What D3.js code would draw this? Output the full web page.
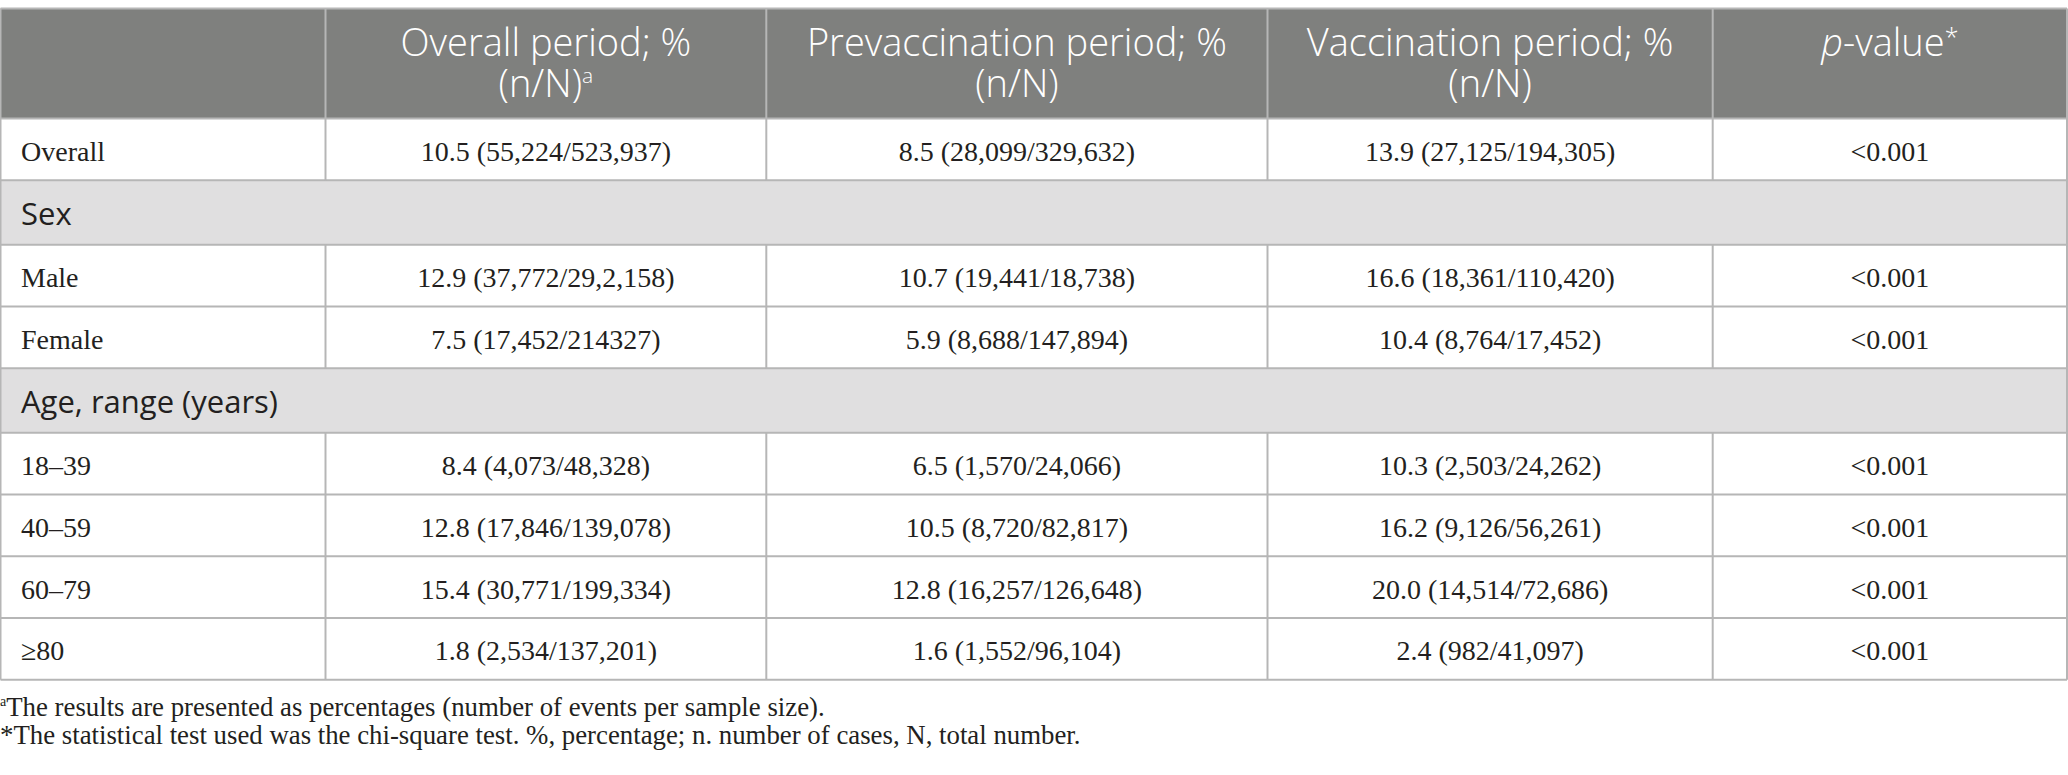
<!DOCTYPE html>
<html>
<head>
<meta charset="utf-8">
<script src="https://cdn.jsdelivr.net/npm/d3@7"></script>
<style>
  html, body { margin: 0; padding: 0; background: #fff; }
  svg { display: block; }
</style>
</head>
<body>
<svg id="chart" width="2068" height="775"></svg>
<script>
// ---------------- DATA ----------------
const headerLine1 = ["", "Overall period; %", "Prevaccination period; %", "Vaccination period; %", "p-value*"];
const headerLine2 = ["", "(n/N)", "(n/N)", "(n/N)", ""];
const rowTypes   = ["data", "section", "data", "data", "section", "data", "data", "data", "data"];
const rowLabels  = ["Overall", "Sex", "Male", "Female", "Age, range (years)", "18–39", "40–59", "60–79", "≥80"];
const overallPeriod = ["10.5 (55,224/523,937)", "", "12.9 (37,772/29,2,158)", "7.5 (17,452/214327)", "", "8.4 (4,073/48,328)", "12.8 (17,846/139,078)", "15.4 (30,771/199,334)", "1.8 (2,534/137,201)"];
const prevaccPeriod = ["8.5 (28,099/329,632)", "", "10.7 (19,441/18,738)", "5.9 (8,688/147,894)", "", "6.5 (1,570/24,066)", "10.5 (8,720/82,817)", "12.8 (16,257/126,648)", "1.6 (1,552/96,104)"];
const vaccPeriod    = ["13.9 (27,125/194,305)", "", "16.6 (18,361/110,420)", "10.4 (8,764/17,452)", "", "10.3 (2,503/24,262)", "16.2 (9,126/56,261)", "20.0 (14,514/72,686)", "2.4 (982/41,097)"];
const pValues       = ["<0.001", "", "<0.001", "<0.001", "", "<0.001", "<0.001", "<0.001", "<0.001"];
const footnotes = [
  {mark: "a", text: "The results are presented as percentages (number of events per sample size)."},
  {mark: "*", text: "The statistical test used was the chi-square test. %, percentage; n. number of cases, N, total number."}
];

// ---------------- LAYOUT / STYLE ----------------
const colEdges = [0.5, 325.5, 766.3, 1267.5, 1712.7, 2067];
const tableTop = 8.5;
const headerH = 110;
const rowH = {data: 61.75, section: 64.5};
const C = {
  headerBg: "#7f807e", sectionBg: "#e0dfe0", grid: "#b6b6b6", text: "#231f20", headerText: "#ffffff"
};
const serif = "'Liberation Serif', 'Times New Roman', serif";
const sans = "'Open Sans', 'Noto Sans', sans-serif";

const svg = d3.select("#chart");

// row positions
const rowTops = [];
let acc = tableTop + headerH;
rowTypes.forEach(t => { rowTops.push(acc); acc += rowH[t]; });
const tableBottom = acc;

const colCenter = i => (colEdges[i] + colEdges[i + 1]) / 2;

// header background
svg.append("rect")
  .attr("x", colEdges[0]).attr("y", tableTop)
  .attr("width", colEdges[5] - colEdges[0]).attr("height", headerH)
  .attr("fill", C.headerBg);

// section backgrounds
svg.selectAll("rect.section")
  .data(rowTypes.map((t, i) => ({t, i})).filter(d => d.t === "section"))
  .join("rect")
  .attr("class", "section")
  .attr("x", colEdges[0]).attr("y", d => rowTops[d.i])
  .attr("width", colEdges[5] - colEdges[0]).attr("height", d => rowH.section)
  .attr("fill", C.sectionBg);

// grid lines: horizontal
const hLines = [tableTop, tableTop + headerH, ...rowTops.slice(1), tableBottom];
svg.selectAll("line.h")
  .data(hLines)
  .join("line")
  .attr("class", "h")
  .attr("x1", colEdges[0]).attr("x2", colEdges[5])
  .attr("y1", d => d).attr("y2", d => d)
  .attr("stroke", C.grid).attr("stroke-width", 2);

// vertical lines: header + data rows
const vSegs = [];
[1, 2, 3, 4].forEach(ci => {
  vSegs.push({x: colEdges[ci], y1: tableTop, y2: tableTop + headerH});
  rowTypes.forEach((t, ri) => {
    if (t === "data") vSegs.push({x: colEdges[ci], y1: rowTops[ri], y2: rowTops[ri] + rowH.data});
  });
});
[0, 5].forEach(ci => vSegs.push({x: colEdges[ci], y1: tableTop, y2: tableBottom}));
svg.selectAll("line.v")
  .data(vSegs)
  .join("line")
  .attr("class", "v")
  .attr("x1", d => d.x).attr("x2", d => d.x)
  .attr("y1", d => d.y1).attr("y2", d => d.y2)
  .attr("stroke", C.grid).attr("stroke-width", 2);

// header text
const hdr = svg.append("g")
  .attr("font-family", sans).attr("font-weight", 300)
  .attr("font-size", 38).attr("fill", C.headerText)
  .attr("text-anchor", "middle");

[1, 2, 3].forEach(ci => {
  hdr.append("text").attr("x", colCenter(ci)).attr("y", tableTop + 47.5).text(headerLine1[ci]);
  const t2 = hdr.append("text").attr("x", colCenter(ci)).attr("y", tableTop + 88);
  t2.append("tspan").text(headerLine2[ci]);
  if (ci === 1) t2.append("tspan").attr("font-size", 21).attr("dy", -14).text("a");
});
{
  const t = hdr.append("text").attr("x", colCenter(4)).attr("y", tableTop + 47.5);
  t.append("tspan").attr("font-style", "italic").text("p");
  t.append("tspan").text("-value");
  t.append("tspan").attr("font-size", 25).attr("dy", -10).text("*");
}

// body rows
const columns = [overallPeriod, prevaccPeriod, vaccPeriod, pValues];
const rows = rowTypes.map((t, i) => ({t, i, label: rowLabels[i], cells: columns.map(c => c[i])}));

const body = svg.append("g").attr("fill", C.text);
rows.forEach(r => {
  const top = rowTops[r.i];
  if (r.t === "section") {
    body.append("text")
      .attr("x", 21).attr("y", top + rowH.section / 2 + 12)
      .attr("font-family", sans).attr("font-size", 31)
      .text(r.label);
  } else {
    const base = top + rowH.data / 2 + 11.5;
    body.append("text")
      .attr("x", 21).attr("y", base)
      .attr("font-family", serif).attr("font-size", 28)
      .text(r.label);
    body.selectAll(null)
      .data(r.cells)
      .join("text")
      .attr("x", (d, ci) => colCenter(ci + 1))
      .attr("y", base)
      .attr("text-anchor", "middle")
      .attr("font-family", serif).attr("font-size", 28)
      .text(d => d);
  }
});

// footnotes
const fn = svg.append("g").attr("font-family", serif).attr("font-size", 26.8).attr("fill", C.text);
footnotes.forEach((f, i) => {
  const t = fn.append("text").attr("x", 0).attr("y", 716 + i * 27.5);
  if (f.mark === "a") {
    t.append("tspan").attr("font-size", 14).attr("dy", -10).text("a");
    t.append("tspan").attr("dy", 10).text(f.text);
  } else {
    t.append("tspan").text(f.mark + f.text);
  }
});
</script>
</body>
</html>
